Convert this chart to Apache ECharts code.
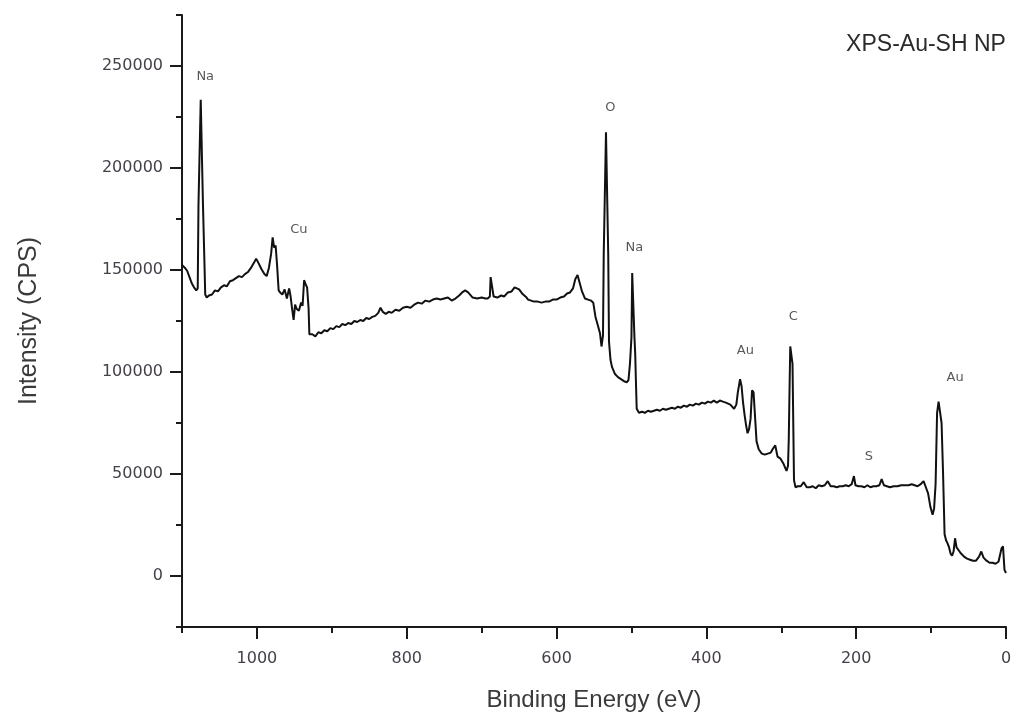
<!DOCTYPE html>
<html>
<head>
<meta charset="utf-8">
<title>XPS-Au-SH NP</title>
<script src="https://cdn.jsdelivr.net/npm/echarts@6/dist/echarts.min.js"></script>
<style>
  html, body { margin: 0; padding: 0; background: #ffffff; }
  #chart { width: 1031px; height: 724px; }
</style>
</head>
<body>
<div id="chart"></div>
<script>
// Survey spectrum: binding energy (eV) and intensity (CPS), high to low energy
const energy = [
  1100, 1096, 1093, 1090, 1087, 1084, 1081, 1079, 1078, 1076, 1075, 1073, 1072, 1071, 1070, 1069,
  1067, 1064, 1060, 1056, 1052, 1048, 1044, 1040, 1036, 1032, 1028, 1024, 1020, 1016, 1012, 1008,
  1004, 1001, 998, 994, 990, 987, 984, 981, 979, 977, 975, 973, 971, 969, 966, 963,
  960, 957, 955, 953, 951, 949, 947, 944, 941, 939, 937, 935, 933, 931, 930, 926,
  922, 918, 914, 910, 906, 902, 898, 894, 890, 886, 882, 878, 874, 870, 866, 862,
  858, 854, 850, 846, 842, 838, 835, 832, 828, 824, 820, 815, 810, 805, 800, 795,
  790, 785, 780, 775, 770, 765, 760, 755, 750, 745, 740, 735, 730, 726, 722, 718,
  712, 706, 700, 695, 692, 689, 688, 686, 684, 679, 674, 670, 665, 660, 656, 654,
  650, 646, 644, 640, 638, 634, 630, 625, 620, 615, 610, 605, 600, 595, 590, 586,
  582, 578, 575, 572, 569, 566, 562, 558, 554, 551, 548, 545, 542, 540, 538, 537,
  534, 532, 531, 530, 528, 526, 522, 518, 514, 510, 506, 504, 502, 500, 499, 497,
  496, 495, 494, 493, 490, 486, 482, 478, 474, 470, 466, 462, 458, 454, 450, 446,
  442, 438, 434, 430, 426, 422, 418, 414, 410, 406, 402, 398, 394, 390, 386, 382,
  378, 374, 368, 363, 360, 358, 355, 353, 351, 349, 347, 345, 343, 341, 339, 337,
  335, 333, 330, 326, 322, 318, 314, 311, 308, 305, 301, 297, 293, 291, 290, 289,
  288, 286, 285, 284, 283, 281, 278, 274, 270, 266, 262, 258, 254, 250, 246, 242,
  238, 234, 230, 226, 222, 218, 214, 210, 206, 203, 201, 197, 193, 189, 185, 181,
  177, 173, 169, 166, 163, 159, 155, 150, 145, 140, 135, 130, 126, 122, 118, 114,
  110, 107, 104, 101, 98, 96, 94, 92, 90, 88, 86, 85, 84, 82, 80, 78,
  76, 74, 72, 70, 68, 66, 63, 60, 56, 52, 48, 44, 40, 36, 33, 30,
  26, 22, 18, 14, 10, 6, 4, 2, 0
];
const intensity = [
  152500, 151000, 149500, 146500, 143500, 141500, 140000, 141000, 182000, 182000, 233500, 233500, 182000, 182000, 153000, 138000,
  136500, 137500, 138000, 140000, 139500, 141500, 142500, 142000, 144500, 145000, 146000, 147000, 146500, 148000, 149000, 151000,
  153500, 155500, 153500, 150500, 148000, 147000, 151000, 158000, 166000, 161000, 162000, 152000, 140000, 139000, 138000, 140500,
  136000, 141000, 137000, 131000, 125500, 133000, 131000, 130000, 134000, 132500, 145000, 143000, 141500, 131000, 118500, 118500,
  117500, 119500, 119000, 120500, 120000, 121500, 121000, 122500, 122000, 123500, 123000, 124000, 123500, 125000, 124500, 125500,
  125000, 126500, 126000, 127000, 127500, 129000, 131500, 129500, 128500, 129500, 129000, 130500, 130000, 131500, 132000, 131500,
  133000, 134000, 133500, 135000, 134500, 135500, 136000, 135500, 136000, 136500, 135000, 136000, 137500, 139000, 140000, 139000,
  136500, 136000, 136500, 136000, 136000, 137000, 146500, 146000, 137000, 136500, 137500, 137000, 139000, 139500, 141500, 141000,
  140500, 138500, 138000, 136500, 135500, 135000, 134500, 134500, 134000, 134500, 134500, 135500, 135500, 136500, 137000, 138500,
  139000, 141000, 145500, 147500, 143500, 139500, 136000, 135500, 135000, 134000, 127000, 123000, 119000, 112500, 118000, 158000,
  217500, 217500, 158000, 115000, 106000, 102500, 99000, 97500, 96500, 95500, 95000, 96000, 104000, 117000, 148500, 148500,
  117000, 109000, 95000, 82000, 80000, 80500, 80000, 81000, 80500, 81000, 81500, 81000, 82000, 81500, 82000, 82500,
  82000, 83000, 82500, 83500, 83000, 84000, 83500, 84500, 84000, 85000, 84500, 85500, 85000, 86000, 85000, 86000,
  85500, 85000, 84000, 82000, 84000, 90000, 96500, 93000, 85000, 79000, 74000, 70000, 72000, 77000, 91000, 90000,
  78000, 66000, 62000, 60000, 59500, 60000, 60500, 62500, 64000, 58500, 57500, 55000, 51500, 54000, 67000, 91000,
  112500, 112500, 104000, 104000, 47000, 43500, 44000, 44000, 46000, 43500, 43500, 44000, 43000, 44500, 44000, 44500,
  46500, 44000, 44000, 43500, 44000, 44000, 44500, 44000, 45000, 49000, 44500, 44000, 44000, 43500, 44500, 43500,
  44000, 44000, 44500, 47500, 44500, 44000, 43500, 44000, 44000, 44500, 44500, 44500, 45000, 44500, 44000, 45000,
  46500, 43500, 40500, 34000, 30000, 33000, 45000, 80000, 85500, 85500, 75000, 75000, 50000, 20500, 17500, 16000,
  14000, 11000, 10000, 12000, 18500, 14000, 12500, 11000, 9500, 8500, 8000, 7500, 7500, 9500, 12000, 9000,
  7500, 6500, 6500, 6000, 7000, 13500, 14500, 3000, 1500
];

// Element labels placed above their peaks (energy in eV, height in CPS)
const peakNames = ['Na', 'Cu', 'O', 'Na', 'Au', 'C', 'S', 'Au'];
const peakLabelEnergy = [1069, 944, 528, 496, 348, 284, 183, 68];
const peakLabelHeight = [245000, 170000, 229500, 161000, 110500, 127000, 58700, 97300];

// Axis ticks
const xMajorTicks = [0, 200, 400, 600, 800, 1000];
const xMinorTicks = [100, 300, 500, 700, 900, 1100];
const yMajorTicks = [0, 50000, 100000, 150000, 200000, 250000];
const yMinorTicks = [-25000, 25000, 75000, 125000, 175000, 225000, 275000];

const spectrum = energy.map((e, i) => [e, intensity[i]]);
const labelPoints = peakNames.map((n, i) => ({ name: n, value: [peakLabelEnergy[i], peakLabelHeight[i]] }));

const axisColor = '#1a1a1a';
const tickFont = { fontFamily: 'DejaVu Sans', fontSize: 16, color: '#45404a', formatter: v => String(v) };

const chart = echarts.init(document.getElementById('chart'), null, { renderer: 'canvas' });
chart.setOption({
  animation: false,
  backgroundColor: '#ffffff',
  title: {
    text: 'XPS-Au-SH NP',
    left: 921,
    top: 28,
    textAlign: 'center',
    textStyle: { fontFamily: 'Liberation Sans', fontSize: 23, fontWeight: 'normal', color: '#2a2a2a' }
  },
  grid: { left: 182, right: 25, top: 15, bottom: 97, containLabel: false, outerBoundsMode: 'none' },
  xAxis: [
    {
      type: 'value', min: 0, max: 1100, inverse: true, position: 'bottom',
      name: 'Binding Energy (eV)', nameLocation: 'middle', nameGap: 61,
      nameTextStyle: { fontFamily: 'Liberation Sans', fontSize: 24, color: '#3a3a3a' },
      axisLine: { show: true, onZero: false, lineStyle: { color: axisColor, width: 2 } },
      axisTick: { show: true, length: 12, customValues: xMajorTicks, lineStyle: { color: axisColor, width: 2 } },
      axisLabel: { customValues: xMajorTicks, margin: 24, ...tickFont },
      splitLine: { show: false }
    },
    {
      type: 'value', min: 0, max: 1100, inverse: true, position: 'bottom',
      axisLine: { show: false, onZero: false },
      axisTick: { show: true, length: 6, customValues: xMinorTicks, lineStyle: { color: axisColor, width: 2 } },
      axisLabel: { show: false },
      splitLine: { show: false }
    }
  ],
  yAxis: [
    {
      type: 'value', min: -25000, max: 275000, position: 'left',
      name: 'Intensity (CPS)', nameLocation: 'middle', nameGap: 140, nameRotate: 90,
      nameTextStyle: { fontFamily: 'Liberation Sans', fontSize: 25, color: '#3a3a3a' },
      axisLine: { show: true, onZero: false, lineStyle: { color: axisColor, width: 2 } },
      axisTick: { show: true, length: 12, customValues: yMajorTicks, lineStyle: { color: axisColor, width: 2 } },
      axisLabel: { customValues: yMajorTicks, margin: 19, ...tickFont },
      splitLine: { show: false }
    },
    {
      type: 'value', min: -25000, max: 275000, position: 'left',
      axisLine: { show: false, onZero: false },
      axisTick: { show: true, length: 6, customValues: yMinorTicks, lineStyle: { color: axisColor, width: 2 } },
      axisLabel: { show: false },
      splitLine: { show: false }
    }
  ],
  series: [
    {
      type: 'line',
      data: spectrum,
      xAxisIndex: 0, yAxisIndex: 0,
      showSymbol: false,
      symbol: 'none',
      lineStyle: { color: '#111111', width: 2 },
      z: 3
    },
    {
      type: 'scatter',
      data: labelPoints,
      xAxisIndex: 0, yAxisIndex: 0,
      symbolSize: 0,
      label: {
        show: true,
        position: 'inside',
        formatter: p => p.name,
        fontFamily: 'DejaVu Sans',
        fontSize: 13,
        color: '#2e2e2e'
      },
      z: 4
    }
  ]
});
</script>
</body>
</html>
